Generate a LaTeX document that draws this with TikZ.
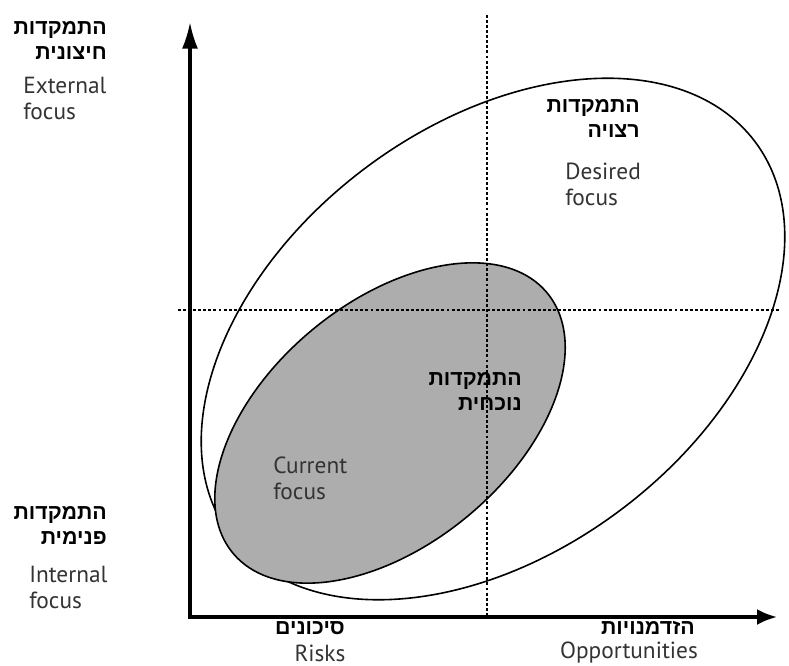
\documentclass[tikz,border=0pt]{standalone}
\usepackage{fontspec}
\usepackage{tikz}
\usetikzlibrary{shapes.geometric,arrows.meta,positioning}
\TeXXeTstate=1
\newfontfamily\hebfont[Script=Hebrew, BoldFont={Liberation Sans Bold}]{Liberation Sans}
\newfontfamily\engfont{PT Sans}
\newcommand{\hebline}[1]{\beginR #1\endR}

\tikzset{
  axis/.style={line width=2.4pt},
  guide/.style={line width=0.9pt, dash pattern=on 2.2pt off 1.6pt},
  focusring/.style={ellipse, draw, line width=1.2pt, inner sep=0pt},
  heblabel/.style={font=\hebfont\bfseries\fontsize{16}{19}\selectfont, align=right, inner sep=0pt},
  englabel/.style={font=\engfont\fontsize{17.5}{19.5}\selectfont, text=black!80, align=left, inner sep=0pt}
}

\begin{document}
\begin{tikzpicture}[x=0.75pt, y=-0.75pt]
    \useasboundingbox (0,0) rectangle (789,666);

    % focus regions
    \node[focusring, rotate=37, minimum width=492pt, minimum height=320pt] (desired) at (493,339) {};
    \node[focusring, fill=black!32, rotate=39.6, minimum width=306pt, minimum height=182pt] (current) at (390,423) {};

    % quadrant guides
    \coordinate (vtop) at (487,15);
    \coordinate (vbot) at (487,617);
    \coordinate (hleft) at (178,310);
    \coordinate (hright) at (780,310);
    \draw[guide] (vtop) -- (vbot);
    \draw[guide] (hleft) -- (hright);

    % axes
    \coordinate (origin) at (190,617);
    \coordinate (ytop) at (190,22);
    \coordinate (xend) at (777,617);
    \draw[axis, -{Latex[length=20pt, width=12pt]}] (origin) -- (ytop);
    \draw[axis, -{Latex[length=15pt, width=12pt]}] ([xshift=-1.2pt]origin) -- (xend);

    % vertical axis labels
    \node[heblabel, anchor=east] (exthe) at (107,40.5) {\hebline{התמקדות}\\\hebline{חיצונית}};
    \node[englabel, anchor=west] (exten) at (23,98) {External\\focus};
    \node[heblabel, anchor=east] (inthe) at (107,525.5) {\hebline{התמקדות}\\\hebline{פנימית}};
    \node[englabel, anchor=west] (inten) at (29,587) {Internal\\focus};

    % horizontal axis labels
    \node[heblabel] (riskhe) at (310,628) {\hebline{סיכונים}};
    \node[englabel] (risken) at (320,653) {Risks};
    \node[heblabel] (opphe) at (648,628) {\hebline{הזדמנויות}};
    \node[englabel] (oppen) at (629,653) {Opportunities};

    % region labels
    \node[heblabel, anchor=east] (deshe) at (640,118.5) {\hebline{התמקדות}\\\hebline{רצויה}};
    \node[englabel, anchor=west] (desen) at (565,184) {Desired\\focus};
    \node[heblabel, anchor=east] (curhe) at (522,391.5) {\hebline{התמקדות}\\\hebline{נוכחית}};
    \node[englabel, anchor=west] (curen) at (273,478) {Current\\focus};
\end{tikzpicture}
\end{document}
